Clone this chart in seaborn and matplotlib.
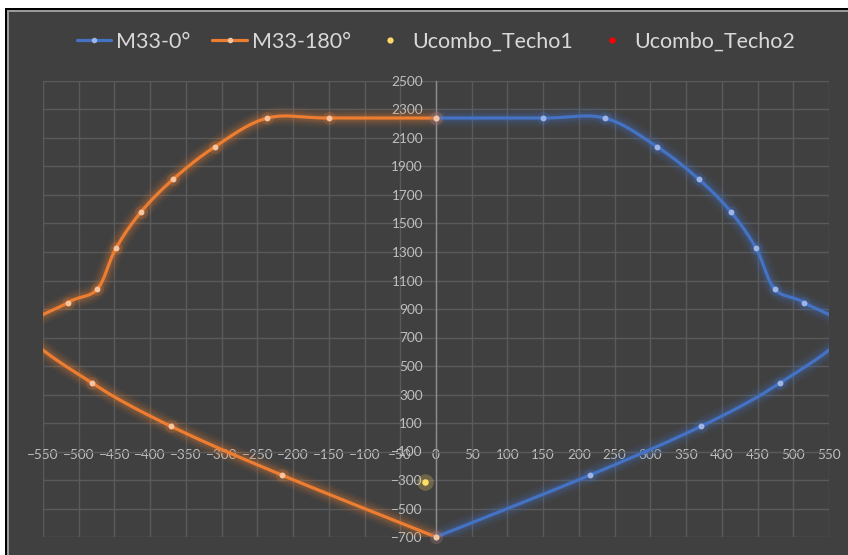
import matplotlib
matplotlib.use("Agg")
import matplotlib.pyplot as plt
from matplotlib.lines import Line2D
from matplotlib.patches import Rectangle
import seaborn as sns
import pandas as pd
import numpy as np

# data
m33_0_x = [0, 150, 236, 309, 368, 413, 448, 474, 515, 572, 481, 371, 215, 0]
m33_0_y = [2240, 2240, 2240, 2040, 1810, 1580, 1326, 1040, 945, 735, 379, 77, -267, -700]
m33_180_x = [0, -150, -236, -309, -368, -413, -448, -474, -515, -572, -481, -371, -215, 0]
m33_180_y = [2240, 2240, 2240, 2040, 1810, 1580, 1326, 1040, 945, 735, 379, 77, -267, -700]
techo1_x = [-15]
techo1_y = [-316]
techo2_x = [-15]
techo2_y = [-316]

labels = ["M33-0°", "M33-180°", "Ucombo_Techo1", "Ucombo_Techo2"]

BG = "#404040"
BLUE = "#4472C4"
ORANGE = "#ED7D31"


# Excel-style smoothed line (bezier through the points)
def smooth(xs, ys, n=40):
    pts = np.column_stack([xs, ys]).astype(float)
    P = np.vstack([pts[0], pts, pts[-1]])
    t = np.linspace(0, 1, n)[:, None]
    out = []
    for i in range(1, len(P) - 2):
        p0, p1, p2, p3 = P[i - 1], P[i], P[i + 1], P[i + 2]
        c1 = p1 + (p2 - p0) / 6
        c2 = p2 - (p3 - p1) / 6
        b = (1 - t) ** 3 * p1 + 3 * (1 - t) ** 2 * t * c1 + 3 * (1 - t) * t ** 2 * c2 + t ** 3 * p2
        out.append(b if i == 1 else b[1:])
    s = np.vstack(out)
    return pd.DataFrame({"x": s[:, 0], "y": s[:, 1]})


sns.set_theme(style="dark", rc={"axes.facecolor": BG, "figure.facecolor": "white"})
plt.rcParams["font.family"] = ["Lato", "DejaVu Sans"]

fig = plt.figure(figsize=(8.48, 5.55), dpi=100)
W, H = 848, 555
# outer frame, behind the axes
for x0, top, col in [(5, 8, "black"), (7, 10, "#9a9a9a"), (9, 12, BG)]:
    fig.patches.append(Rectangle((x0 / W, -0.1), 1.2, (H - top) / H + 0.1, transform=fig.transFigure,
                                 facecolor=col, edgecolor="none", zorder=-5))

ax = fig.add_axes([43 / W, 18 / H, 786 / W, 456 / H])
ax.set_facecolor(BG)

series = [(m33_0_x, m33_0_y, BLUE, "#9db5e6"), (m33_180_x, m33_180_y, ORANGE, "#f7c4a0")]
for xs, ys, col, mcol in series:
    df = smooth(xs, ys)
    for lw, a in [(14, 0.05), (11, 0.07), (8, 0.10), (5.5, 0.14)]:
        sns.lineplot(data=df, x="x", y="y", sort=False, estimator=None, color=col,
                     lw=lw, alpha=a, ax=ax, zorder=2, solid_capstyle="round")
    sns.lineplot(data=df, x="x", y="y", sort=False, estimator=None, color=col,
                 lw=2.3, ax=ax, zorder=3)
for xs, ys, col, mcol in series:
    pts = pd.DataFrame({"x": xs, "y": ys})
    inside = pts[pts["x"].abs() <= 550]
    sns.scatterplot(data=inside, x="x", y="y", color=col, s=90, alpha=0.18, linewidth=0, ax=ax,
                    zorder=4, clip_on=False)
    sns.scatterplot(data=inside, x="x", y="y", color=mcol, s=18, linewidth=0, ax=ax,
                    zorder=5, clip_on=False)

t2 = pd.DataFrame({"x": techo2_x, "y": techo2_y})
sns.scatterplot(data=t2, x="x", y="y", color="#ff0000", s=18, linewidth=0, ax=ax, zorder=5)
t1 = pd.DataFrame({"x": techo1_x, "y": techo1_y})
sns.scatterplot(data=t1, x="x", y="y", color="#ffd966", s=140, alpha=0.25, linewidth=0, ax=ax, zorder=5)
sns.scatterplot(data=t1, x="x", y="y", color="#ffe066", s=22, linewidth=0, ax=ax, zorder=6)

ax.set_xlim(-550, 550)
ax.set_ylim(-700, 2500)
ax.set_xticks(np.arange(-550, 551, 50))
ax.set_yticks(np.arange(-700, 2501, 200))
ax.grid(True, color="#5a5a5a", lw=1.0)
ax.set_axisbelow(True)
ax.set_xlabel("")
ax.set_ylabel("")

for s in ["top", "right"]:
    ax.spines[s].set_visible(False)
ax.spines["left"].set_position(("data", 0))
ax.spines["left"].set_color("#8c8c8c")
ax.spines["left"].set_linewidth(1.0)
ax.spines["left"].set_zorder(1)
ax.spines["bottom"].set_position(("data", 0))
ax.spines["bottom"].set_visible(False)
ax.tick_params(axis="y", length=0, pad=9.4, labelsize=9.8, labelcolor="#bfbfbf")
ax.tick_params(axis="x", length=0, pad=8.6, labelsize=9.8, labelcolor="#bfbfbf")

handles = [
    Line2D([], [], color=BLUE, lw=2.3, marker="o", markersize=4, markerfacecolor="#9db5e6", markeredgewidth=0),
    Line2D([], [], color=ORANGE, lw=2.3, marker="o", markersize=4, markerfacecolor="#f7c4a0", markeredgewidth=0),
    Line2D([], [], color="none", marker="o", markersize=4.5, markerfacecolor="#ffd966", markeredgewidth=0),
    Line2D([], [], color="none", marker="o", markersize=4.5, markerfacecolor="#ff0000", markeredgewidth=0),
]
fig.legend(handles, labels, loc="center", bbox_to_anchor=(436 / W, 1 - 42 / H), ncol=4,
           frameon=False, fontsize=15.5, labelcolor="#d9d9d9", handlelength=1.6,
           handletextpad=0.25, columnspacing=1.0)

fig.savefig("out.png", dpi=100, facecolor="white")
